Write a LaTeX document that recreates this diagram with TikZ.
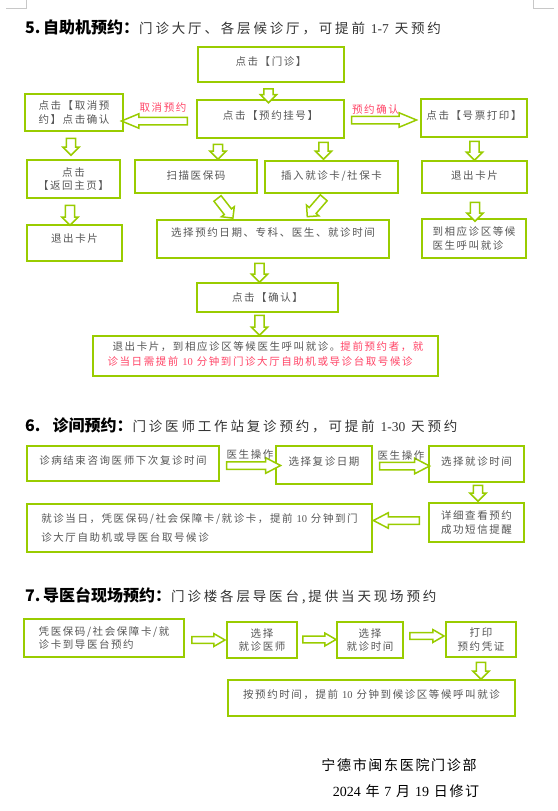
\documentclass[tikz,border=0pt]{standalone}
\usepackage{fontspec}
\usepackage{xcolor}
\usepackage{tikz}
\usetikzlibrary{shapes.arrows, positioning}
\setmainfont{Noto Sans CJK SC}
\newfontfamily\boxfont{Noto Sans CJK SC}[LetterSpace=15]
\newfontfamily\headfont{Noto Sans CJK SC}[LetterSpace=21]
\newfontfamily\footfont{Noto Sans CJK SC}[LetterSpace=12]
\newfontfamily\numfont{Liberation Serif}
\definecolor{boxgreen}{HTML}{99CC00}
\definecolor{textgray}{HTML}{555555}
\definecolor{titlegray}{HTML}{333333}
\definecolor{redtext}{HTML}{FF4466}
\definecolor{markgray}{HTML}{C8C8C8}

\begin{document}
\begin{tikzpicture}[x=1pt, y=-1pt,
    box/.style={
        rectangle, draw=boxgreen, line width=1.5pt, fill=white,
        text=textgray, font=\boxfont\fontsize{10.5}{13.5}\selectfont,
        inner sep=2pt,
    },
    lift/.style={text depth=#1},
    downarr/.style={
        single arrow, draw=boxgreen, line width=1.5pt, fill=white,
        inner sep=3.8pt, single arrow head extend=3.6pt,
        rotate=-90, minimum height=#1,
    },
    sidearr/.style={
        single arrow, draw=boxgreen, line width=1.5pt, fill=white,
        inner sep=3pt, single arrow head extend=3.5pt,
        single arrow tip angle=45, minimum height=#1,
    },
    smallarr/.style={
        single arrow, draw=boxgreen, line width=1.5pt, fill=white,
        inner sep=2.7pt, single arrow head extend=3pt,
        single arrow tip angle=60, minimum height=#1,
    },
    arrlabel/.style={font=\boxfont\fontsize{10.5}{12}\selectfont, text=textgray, inner sep=0pt},
    head/.style={anchor=west, inner sep=0pt, text=black},
]
\useasboundingbox (0,0) rectangle (557,811);

% page corner marks
\draw[markgray, line width=0.6pt] (6,8) -- (26,8) -- (26,0);
\draw[markgray, line width=0.6pt] (533,0) -- (533,8) -- (554,8);

% 5. self-service machine
\node[head] (t5) at (25,27) {{\bfseries\fontsize{16}{18}\selectfont 5.\,自助机预约：}{\headfont\fontsize{13.5}{18}\selectfont\color{titlegray}门诊大厅、各层候诊厅，可提前 {\numfont 1-7} 天预约}};

\node[box, minimum width=146pt, minimum height=35pt, lift=7pt] (menzhen) at (271,64.5) {点击【门诊】};
\node[box, minimum width=147pt, minimum height=38pt, lift=8pt] (guahao) at (270.5,119) {点击【预约挂号】};
\node[box, minimum width=98pt, minimum height=37pt, align=left] (quxiao) at (74,112.5) {点击【取消预\\约】点击确认};
\node[box, minimum width=106pt, minimum height=38pt, lift=6pt] (dayin) at (474,118) {点击【号票打印】};
\node[box, minimum width=93pt, minimum height=38pt, align=center] (fanhui) at (73.5,179) {点击\\【返回主页】};
\node[box, minimum width=122pt, minimum height=33pt, lift=3pt] (saomiao) at (196,176.5) {扫描医保码};
\node[box, minimum width=133pt, minimum height=32pt, lift=4pt] (charu) at (331.5,177) {插入就诊卡/社保卡};
\node[box, minimum width=105pt, minimum height=32pt, lift=4pt] (tuichuR) at (474.5,177) {退出卡片};
\node[box, minimum width=95pt, minimum height=36pt, lift=10pt] (tuichuL) at (74.5,243) {退出卡片};
\node[box, minimum width=232pt, minimum height=38pt, lift=13pt] (xuanze) at (273,239) {选择预约日期、专科、医生、就诊时间};
\node[box, minimum width=104pt, minimum height=39pt, align=left] (houzhen) at (474,238.5) {到相应诊区等候\\医生呼叫就诊};
\node[box, minimum width=141pt, minimum height=29pt] (queren) at (267.5,297.5) {点击【确认】};
\node[box, minimum width=345pt, minimum height=40pt, align=left, lift=5pt] (tishi) at (265.5,356)
    {\hspace*{5pt}退出卡片，到相应诊区等候医生呼叫就诊。\textcolor{redtext}{提前预约者，就}\\[2pt]\textcolor{redtext}{诊当日需提前 {\numfont 10} 分钟到门诊大厅自助机或导诊台取号候诊}};

\node[downarr=14pt] (a1) at (268.5,93.5) {};
\node[downarr=15pt] (a2) at (218,149.5) {};
\node[downarr=17pt] (a3) at (323.5,148.5) {};
\node[downarr=19pt] (a4) at (474.5,148.5) {};
\node[downarr=17pt] (a5) at (71,144.5) {};
\node[downarr=20pt] (a6) at (70,213) {};
\node[downarr=19pt] (a7) at (475,209.5) {};
\node[downarr=19pt] (a8) at (259.5,270.5) {};
\node[downarr=20pt] (a9) at (259.5,323) {};
\node[downarr=25pt, rotate=38] (a10) at (223.8,206.5) {};
\node[downarr=25pt, rotate=-41] (a11) at (317,205.5) {};

\node[sidearr=66pt, rotate=180] (cancel) at (159,121) {};
\node[sidearr=65pt] (confirm) at (379.5,120) {};
\node[arrlabel, text=redtext] (cancellbl) at (163,108) {取消预约};
\node[arrlabel, text=redtext, above=1pt of confirm, xshift=-4pt] (confirmlbl) {预约确认};

% 6. consulting room
\node[head] (t6) at (25,425) {{\bfseries\fontsize{16}{18}\selectfont 6.\hspace{12pt}诊间预约：}{\headfont\fontsize{13.5}{18}\selectfont\color{titlegray}门诊医师工作站复诊预约，可提前 {\numfont 1-30} 天预约}};

\node[box, minimum width=192pt, minimum height=35pt, lift=7pt] (zhenbing) at (123,463.5) {诊病结束咨询医师下次复诊时间};
\node[box, minimum width=96pt, minimum height=38pt, lift=7pt] (fuzhen) at (324,465) {选择复诊日期};
\node[box, minimum width=95pt, minimum height=36pt, lift=5pt] (jiuzhen) at (476.5,464) {选择就诊时间};
\node[box, minimum width=95pt, minimum height=39pt, align=left] (xiangxi) at (476.5,522.5) {详细查看预约\\成功短信提醒};
\node[box, minimum width=345pt, minimum height=48pt, align=left] (dangri) at (199.5,528)
    {就诊当日，凭医保码/社会保障卡/就诊卡，提前 {\numfont 10} 分钟到门\\[6pt]诊大厅自助机或导医台取号候诊};

\node[sidearr=54pt, single arrow tip angle=55, single arrow head extend=4pt] (op1) at (250,465.5) {};
\node[sidearr=50pt, single arrow tip angle=55, single arrow head extend=4pt] (op2) at (401,466) {};
\node[downarr=16pt] (b1) at (478,491) {};
\node[sidearr=46pt, single arrow tip angle=55, single arrow head extend=4pt, rotate=180] (b2) at (400,520.5) {};
\node[arrlabel, above=1pt of op1] (op1lbl) {医生操作};
\node[arrlabel, above=1pt of op2] (op2lbl) {医生操作};

% 7. guide desk on site
\node[head] (t7) at (25,596) {{\bfseries\fontsize{16}{18}\selectfont 7.\,导医台现场预约：}{\headfont\fontsize{13.5}{18}\selectfont\color{titlegray}门诊楼各层导医台,提供当天现场预约}};

\node[box, minimum width=160pt, minimum height=38pt, align=left] (ping) at (104,638) {凭医保码/社会保障卡/就\\诊卡到导医台预约};
\node[box, minimum width=70pt, minimum height=36pt, align=center] (yishi) at (262,640) {选择\\就诊医师};
\node[box, minimum width=66pt, minimum height=36pt, align=center] (shijian) at (370,640) {选择\\就诊时间};
\node[box, minimum width=70pt, minimum height=35pt, align=center] (pingzheng) at (481,639.5) {打印\\预约凭证};
\node[box, minimum width=287pt, minimum height=36pt, lift=7pt] (anyuyue) at (371.5,698) {按预约时间，提前 {\numfont 10} 分钟到候诊区等候呼叫就诊};

\node[smallarr=33pt] (c1) at (205.5,640) {};
\node[smallarr=33pt] (c2) at (316.5,639.5) {};
\node[smallarr=34pt] (c3) at (424,636) {};
\node[downarr=17pt] (c4) at (481,668.5) {};

% footer
\node[inner sep=0pt, font=\footfont\fontsize{14}{16}\selectfont] (dept) at (399,765) {宁德市闽东医院门诊部};
\node[inner sep=0pt, font=\footfont\fontsize{14}{16}\selectfont] (date) at (406,791) {{\numfont 2024} 年 {\numfont 7} 月 {\numfont 19} 日修订};

\end{tikzpicture}
\end{document}
